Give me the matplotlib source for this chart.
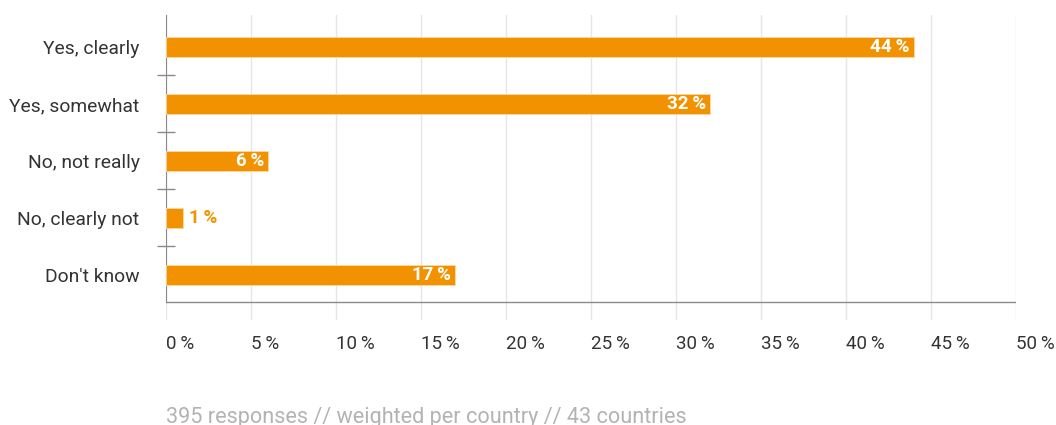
import numpy as np
import matplotlib.pyplot as plt

plt.rcParams['font.family'] = ['Roboto', 'DejaVu Sans']

answers = ["Yes, clearly", "Yes, somewhat", "No, not really", "No, clearly not", "Don't know"]
shares = [44, 32, 6, 1, 17]
x_ticks = [0, 5, 10, 15, 20, 25, 30, 35, 40, 45, 50]
footer = "395 responses // weighted per country // 43 countries"

orange = "#F39200"
dark = "#333333"
axis_grey = "#8a8a8a"

fig = plt.figure(figsize=(10.56, 4.25), dpi=100)
ax = fig.add_axes([0.1572, 0.2471, 0.8049, 0.7176])

y = np.arange(len(answers))
ax.barh(y, shares, height=0.35, color=orange, edgecolor="#fbd9a6", linewidth=0.6, zorder=3)

# value labels: inside the bar in white, outside in orange when the bar is too short
for yi, v in zip(y, shares):
    txt = f"{v}\u2009%"
    if v >= 4:
        ax.text(v - 0.25, yi, txt, ha="right", va="center", color="white",
                fontsize=13.5, fontweight="bold", zorder=4)
    else:
        ax.text(v + 0.35, yi, txt, ha="left", va="center", color=orange,
                fontsize=13.5, fontweight="bold", zorder=4)

ax.set_xlim(0, 50)
ax.set_ylim(4.79, -0.56)

# x axis: gridlines with left-aligned labels, no tick marks
ax.set_xticks(x_ticks)
ax.set_xticklabels([f"{t}\u2009%" for t in x_ticks], ha="left")
ax.tick_params(axis="x", length=0, pad=11, labelsize=13.5, labelcolor=dark)
ax.grid(axis="x", color="#e6e6e6", linewidth=1, zorder=0)

# y axis: category labels at bar centres, small marks between categories
ax.set_yticks(y[:-1] + 0.5)
ax.set_yticklabels([])
ax.set_yticks(y, minor=True)
ax.set_yticklabels(answers, minor=True)
ax.tick_params(axis="y", which="major", direction="inout", length=12.5, width=1, color=axis_grey)
ax.tick_params(axis="y", which="minor", length=0, pad=19, labelsize=13.9, labelcolor=dark)

for s in ["top", "right", "bottom"]:
    ax.spines[s].set_visible(False)
ax.spines["left"].set_color(axis_grey)
ax.spines["left"].set_bounds(-0.56, 4.47)
ax.axhline(4.47, color=axis_grey, linewidth=1, zorder=2)

fig.text(166 / 1056, 1 - 417 / 425, footer, ha="left", va="center",
         fontsize=15.6, color="#b3b3b3")

fig.savefig("out.png", dpi=100)
